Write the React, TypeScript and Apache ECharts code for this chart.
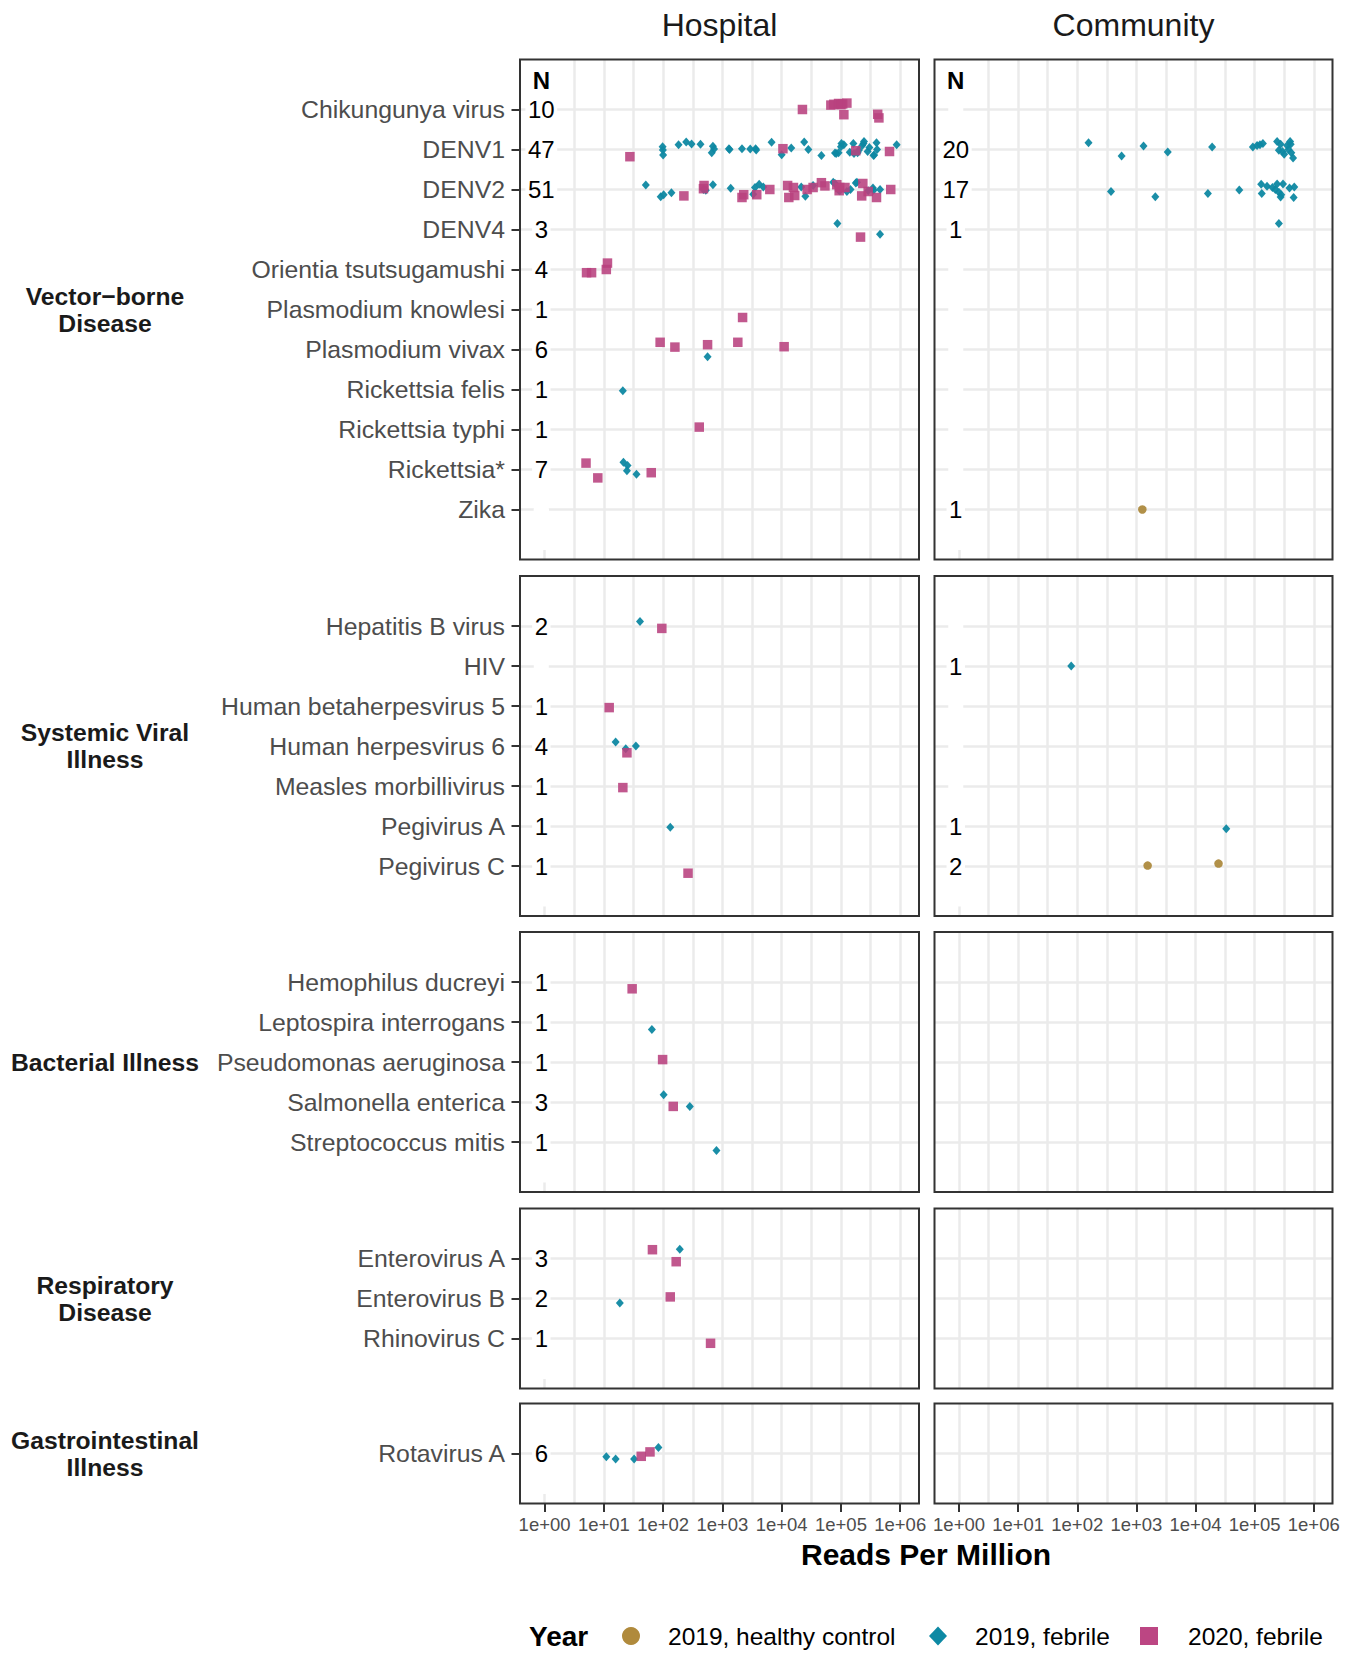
import React, { useEffect, useRef } from "react";
import * as echarts from "echarts";

const W = 1358;
const H = 1654;
const FONT = '"Liberation Sans", Arial, Helvetica, sans-serif';

// ---------- data ----------
const SITES = ["Hospital", "Community"];
const FACETS = [
  "Vector\u2212borne\nDisease",
  "Systemic Viral\nIllness",
  "Bacterial Illness",
  "Respiratory\nDisease",
  "Gastrointestinal\nIllness",
];
const CAT_VECTOR = [
  "Chikungunya virus", "DENV1", "DENV2", "DENV4", "Orientia tsutsugamushi",
  "Plasmodium knowlesi", "Plasmodium vivax", "Rickettsia felis", "Rickettsia typhi",
  "Rickettsia*", "Zika",
];
const CAT_SYSTEMIC = [
  "Hepatitis B virus", "HIV", "Human betaherpesvirus 5", "Human herpesvirus 6",
  "Measles morbillivirus", "Pegivirus A", "Pegivirus C",
];
const CAT_BACTERIAL = [
  "Hemophilus ducreyi", "Leptospira interrogans", "Pseudomonas aeruginosa",
  "Salmonella enterica", "Streptococcus mitis",
];
const CAT_RESPIRATORY = ["Enterovirus A", "Enterovirus B", "Rhinovirus C"];
const CAT_GI = ["Rotavirus A"];
const CATEGORIES = [CAT_VECTOR, CAT_SYSTEMIC, CAT_BACTERIAL, CAT_RESPIRATORY, CAT_GI];

const GROUPS = ["2019, healthy control", "2019, febrile", "2020, febrile"];
const X_TICKS = [1, 10, 100, 1000, 10000, 100000, 1000000];

// N per category (null = no count shown)
const N_HOSPITAL: (number | null)[][] = [
  [10, 47, 51, 3, 4, 1, 6, 1, 1, 7, null],
  [2, null, 1, 4, 1, 1, 1],
  [1, 1, 1, 3, 1],
  [3, 2, 1],
  [6],
];
const N_COMMUNITY: ((number | null)[] | null)[] = [
  [null, 20, 17, 1, null, null, null, null, null, null, 1],
  [null, 1, null, null, null, 1, 2],
  null,
  null,
  null,
];
const N_LABEL_X = 0.88; // reads-per-million position of the N column

// [category, reads per million, vertical jitter (rows)]
type Pt = [string, number, number];

const HOSPITAL_2019_FEBRILE: Pt[] = [
  ["DENV1", 98, -0.07], ["DENV1", 99, 0.01], ["DENV1", 100, 0.14], ["DENV1", 182, -0.12],
  ["DENV1", 245, -0.19], ["DENV1", 302, -0.14], ["DENV1", 427, -0.13], ["DENV1", 692, -0.08],
  ["DENV1", 724, -0.01], ["DENV1", 661, 0.08], ["DENV1", 1290, -0.02], ["DENV1", 1320, 0.0],
  ["DENV1", 2140, -0.02], ["DENV1", 2950, -0.01], ["DENV1", 3630, -0.02], ["DENV1", 3720, 0.01],
  ["DENV1", 6760, -0.18], ["DENV1", 10000, 0.13], ["DENV1", 14500, -0.04], ["DENV1", 24000, -0.19],
  ["DENV1", 28200, 0.0], ["DENV1", 46800, 0.15], ["DENV1", 79400, 0.09], ["DENV1", 83200, 0.1],
  ["DENV1", 91200, 0.08], ["DENV1", 102000, -0.15], ["DENV1", 100000, -0.07], ["DENV1", 112000, -0.12],
  ["DENV1", 141000, 0.07], ["DENV1", 162000, -0.15], ["DENV1", 166000, 0.1], ["DENV1", 200000, 0.02],
  ["DENV1", 240000, -0.15], ["DENV1", 229000, -0.1], ["DENV1", 245000, -0.2], ["DENV1", 282000, 0.05],
  ["DENV1", 302000, -0.05], ["DENV1", 355000, 0.15], ["DENV1", 398000, -0.17], ["DENV1", 407000, 0.0],
  ["DENV1", 363000, 0.14], ["DENV1", 871000, -0.12], ["DENV1", 191000, 0.08],
  ["DENV2", 51, -0.11], ["DENV2", 91, 0.18], ["DENV2", 102, 0.13], ["DENV2", 138, 0.08],
  ["DENV2", 479, 0.0], ["DENV2", 525, 0.02], ["DENV2", 692, -0.12], ["DENV2", 1380, -0.03],
  ["DENV2", 3310, 0.12], ["DENV2", 3550, -0.05], ["DENV2", 4170, -0.13], ["DENV2", 4900, -0.06],
  ["DENV2", 21400, -0.06], ["DENV2", 25100, 0.17], ["DENV2", 33900, -0.1], ["DENV2", 74100, -0.18],
  ["DENV2", 79400, -0.15], ["DENV2", 91200, 0.01], ["DENV2", 95500, 0.03], ["DENV2", 145000, 0.0],
  ["DENV2", 178000, -0.16], ["DENV2", 186000, -0.18], ["DENV2", 288000, 0.03], ["DENV2", 347000, -0.04],
  ["DENV2", 355000, 0.02], ["DENV2", 457000, 0.0], ["DENV2", 126000, 0.05],
  ["DENV4", 87100, -0.15], ["DENV4", 457000, 0.12],
  ["Plasmodium vivax", 562, 0.18],
  ["Rickettsia felis", 20.9, 0.03],
  ["Rickettsia*", 21.4, -0.18], ["Rickettsia*", 25.1, -0.1], ["Rickettsia*", 24.5, 0.03], ["Rickettsia*", 35.5, 0.12],
  ["Hepatitis B virus", 40.7, -0.11],
  ["Human herpesvirus 6", 15.8, -0.1], ["Human herpesvirus 6", 23.4, 0.07], ["Human herpesvirus 6", 34.7, 0.0],
  ["Pegivirus A", 132, 0.03],
  ["Leptospira interrogans", 64.6, 0.19],
  ["Salmonella enterica", 102, -0.18], ["Salmonella enterica", 282, 0.11],
  ["Streptococcus mitis", 794, 0.21],
  ["Enterovirus A", 191, -0.23],
  ["Enterovirus B", 18.6, 0.11],
  ["Rotavirus A", 11, 0.08], ["Rotavirus A", 15.8, 0.14], ["Rotavirus A", 32.4, 0.14], ["Rotavirus A", 83.2, -0.15],
];

const HOSPITAL_2020_FEBRILE: Pt[] = [
  ["Chikungunya virus", 22400, 0.0], ["Chikungunya virus", 67600, -0.11], ["Chikungunya virus", 75900, -0.13],
  ["Chikungunya virus", 91200, -0.15], ["Chikungunya virus", 100000, -0.12], ["Chikungunya virus", 107000, -0.14],
  ["Chikungunya virus", 126000, -0.16], ["Chikungunya virus", 112000, 0.13], ["Chikungunya virus", 417000, 0.12],
  ["Chikungunya virus", 437000, 0.21],
  ["DENV1", 27.5, 0.18], ["DENV1", 10500, -0.02], ["DENV1", 178000, 0.03], ["DENV1", 660000, 0.05],
  ["DENV2", 224, 0.16], ["DENV2", 490, -0.1], ["DENV2", 479, -0.02], ["DENV2", 2140, 0.2],
  ["DENV2", 2290, 0.13], ["DENV2", 3800, 0.13], ["DENV2", 6310, 0.0], ["DENV2", 12600, -0.1],
  ["DENV2", 13200, 0.2], ["DENV2", 15800, -0.05], ["DENV2", 16600, 0.15], ["DENV2", 26900, 0.0],
  ["DENV2", 33900, -0.05], ["DENV2", 46800, -0.17], ["DENV2", 53700, -0.09], ["DENV2", 85100, -0.12],
  ["DENV2", 95500, -0.05], ["DENV2", 117000, -0.05], ["DENV2", 93300, 0.03], ["DENV2", 234000, -0.15],
  ["DENV2", 224000, 0.16], ["DENV2", 288000, 0.05], ["DENV2", 398000, 0.2], ["DENV2", 692000, 0.0],
  ["DENV4", 214000, 0.19],
  ["Orientia tsutsugamushi", 5.1, 0.08], ["Orientia tsutsugamushi", 6.2, 0.08],
  ["Orientia tsutsugamushi", 11, 0.0], ["Orientia tsutsugamushi", 11.5, -0.16],
  ["Plasmodium knowlesi", 2190, 0.2],
  ["Plasmodium vivax", 89, -0.18], ["Plasmodium vivax", 158, -0.06], ["Plasmodium vivax", 562, -0.12],
  ["Plasmodium vivax", 1820, -0.18], ["Plasmodium vivax", 11000, -0.07],
  ["Rickettsia typhi", 407, -0.06],
  ["Rickettsia*", 5.0, -0.16], ["Rickettsia*", 7.9, 0.21], ["Rickettsia*", 63, 0.08],
  ["Hepatitis B virus", 95, 0.06],
  ["Human betaherpesvirus 5", 12.3, 0.04],
  ["Human herpesvirus 6", 24.5, 0.17],
  ["Measles morbillivirus", 20.9, 0.04],
  ["Pegivirus C", 263, 0.18],
  ["Hemophilus ducreyi", 30, 0.17],
  ["Pseudomonas aeruginosa", 98, -0.06],
  ["Salmonella enterica", 148, 0.11],
  ["Enterovirus A", 66, -0.22], ["Enterovirus A", 166, 0.08],
  ["Enterovirus B", 132, -0.04],
  ["Rhinovirus C", 631, 0.12],
  ["Rotavirus A", 42.7, 0.07], ["Rotavirus A", 60, -0.04],
];

const COMMUNITY_2019_FEBRILE: Pt[] = [
  ["DENV1", 155, -0.17], ["DENV1", 562, 0.16], ["DENV1", 1320, -0.09], ["DENV1", 3390, 0.06],
  ["DENV1", 19100, -0.06], ["DENV1", 93300, -0.06], ["DENV1", 110000, -0.1], ["DENV1", 123000, -0.12],
  ["DENV1", 138000, -0.15], ["DENV1", 240000, -0.2], ["DENV1", 275000, -0.13], ["DENV1", 257000, 0.02],
  ["DENV1", 316000, 0.12], ["DENV1", 398000, -0.2], ["DENV1", 407000, -0.13], ["DENV1", 372000, 0.0],
  ["DENV1", 417000, 0.08], ["DENV1", 447000, 0.21], ["DENV1", 295000, 0.05], ["DENV1", 355000, -0.1],
  ["DENV2", 372, 0.05], ["DENV2", 2090, 0.18], ["DENV2", 16200, 0.1], ["DENV2", 55000, 0.01],
  ["DENV2", 129000, -0.13], ["DENV2", 132000, 0.1], ["DENV2", 162000, -0.08], ["DENV2", 200000, -0.05],
  ["DENV2", 224000, 0.0], ["DENV2", 240000, -0.14], ["DENV2", 257000, 0.07], ["DENV2", 282000, 0.13],
  ["DENV2", 275000, 0.19], ["DENV2", 302000, -0.14], ["DENV2", 389000, -0.04], ["DENV2", 468000, -0.06],
  ["DENV2", 457000, 0.2],
  ["DENV4", 257000, -0.15],
  ["HIV", 79, 0.0],
  ["Pegivirus A", 33100, 0.07],
];

const COMMUNITY_2019_HEALTHY: Pt[] = [
  ["Zika", 1260, 0.0],
  ["Pegivirus C", 1550, -0.01], ["Pegivirus C", 24500, -0.06],
];

const SITE_POINTS: [number, Pt[]][][] = [
  [[1, HOSPITAL_2019_FEBRILE], [2, HOSPITAL_2020_FEBRILE]],
  [[0, COMMUNITY_2019_HEALTHY], [1, COMMUNITY_2019_FEBRILE]],
];

// ---------- styling / layout ----------
const COLORS = ["#AD8A3E", "#0E88A2", "#B8417E"];
const LEGEND_COLORS = ["#B08A3C", "#0D89A4", "#BC4683"];
const SYMBOLS = ["circle", "diamond", "rect"];
const SIZES: any[] = [8.5, [8, 9], 9.5];
const OPAC = [0.95, 0.95, 0.88];

const COL_LEFT = [520, 934.5];
const COL_W = [399, 398];
const ROW_TOP = [59.5, 576, 932, 1208.5, 1403.5];
const ROW_UNIT = 40;
const PAD = 1.25;
const HEADER_POS = -0.725;
const X_MIN = 0.3846;
const X_MAX = 2075000;
const GRID_COLOR = "#EBEBEB";
const BORDER = "#333333";

function fmtX(v: number) {
  const e = Math.round(Math.log10(v));
  return "1e+" + String(e).padStart(2, "0");
}

function buildOption() {
  const grid: any[] = [];
  const xAxis: any[] = [];
  const yAxis: any[] = [];
  const series: any[] = [];
  const graphic: any[] = [];
  const xGridLines = Array.from({ length: 13 }, (_, k) => Math.pow(10, k / 2));

  FACETS.forEach((facet, fi) => {
    const cats = CATEGORIES[fi];
    const n = cats.length;
    const idx = cats.map((_, i) => i);
    const top = ROW_TOP[fi];
    const height = (n - 1 + 2 * PAD) * ROW_UNIT;
    const isBottom = fi === FACETS.length - 1;

    SITES.forEach((site, si) => {
      const gi = grid.length;
      grid.push({
        left: COL_LEFT[si], top, width: COL_W[si], height,
        show: true, borderColor: BORDER, borderWidth: 2, backgroundColor: "transparent",
        containLabel: false, outerBoundsMode: "none", z: 5,
      });
      xAxis.push({
        type: "log", logBase: 10, gridIndex: gi, min: X_MIN, max: X_MAX,
        axisLine: { show: false, onZero: false }, splitLine: { show: false }, minorTick: { show: false },
        axisTick: { show: isBottom, inside: false, customValues: X_TICKS, length: 8.5, lineStyle: { color: BORDER, width: 2 } },
        axisLabel: {
          show: isBottom, customValues: X_TICKS, formatter: fmtX, color: "#4D4D4D",
          fontSize: 18.5, fontFamily: FONT, margin: 11, hideOverlap: false,
        },
      });
      yAxis.push({
        type: "value", gridIndex: gi, inverse: true, min: -PAD, max: n - 1 + PAD,
        axisLine: { show: false, onZero: false }, splitLine: { show: false },
        axisTick: { show: si === 0, inside: false, customValues: idx, length: 8.5, lineStyle: { color: BORDER, width: 2 } },
        axisLabel: {
          show: si === 0, customValues: idx, formatter: (v: number) => cats[Math.round(v)] ?? "",
          color: "#4D4D4D", fontSize: 24.8, fontFamily: FONT, margin: 15, hideOverlap: false,
        },
      });
      // panel grid lines
      series.push({
        type: "scatter", xAxisIndex: gi, yAxisIndex: gi, data: [], silent: true, z: 1,
        markLine: {
          silent: true, z: 1, animation: false, symbol: ["none", "none"], label: { show: false },
          lineStyle: { color: GRID_COLOR, width: 2.5, type: "solid" },
          emphasis: { disabled: true },
          data: [
            ...xGridLines.map((v) => ({ xAxis: v })),
            ...idx.map((i) => ({ yAxis: i })),
          ],
        },
      });
      // N labels with white boxes
      const counts = (si === 0 ? N_HOSPITAL : N_COMMUNITY)[fi];
      if (counts) {
        const box = (txt: string, y: number, bold: boolean) => ({
          value: [N_LABEL_X, y],
          txt,
          symbolSize: [txt ? txt.length * (bold ? 17.5 : 13.4) + 5 : 15, ROW_UNIT + 1],
          label: { fontWeight: bold ? "bold" : "normal" },
        });
        const items: any[] = [];
        items.push(box(fi === 0 ? "N" : "", HEADER_POS, true));
        items.push(box("", n - 1 + 0.5, false));
        counts.forEach((c, i) => items.push(box(c == null ? "" : String(c), i, false)));
        series.push({
          type: "scatter", xAxisIndex: gi, yAxisIndex: gi, silent: true, z: 2,
          symbol: "rect", data: items,
          itemStyle: { color: "#FFFFFF", opacity: 1 },
          label: {
            show: true, position: "inside", formatter: (p: any) => p.data.txt,
            color: "#000000", fontSize: 24, fontFamily: FONT,
          },
          emphasis: { disabled: true },
        });
      }
      // data points
      SITE_POINTS[si].forEach(([g, pts]) => {
        const data = pts
          .filter((p) => cats.includes(p[0]))
          .map((p) => [p[1], cats.indexOf(p[0]) + p[2]]);
        if (!data.length) return;
        series.push({
          type: "scatter", name: GROUPS[g], xAxisIndex: gi, yAxisIndex: gi, data,
          symbol: SYMBOLS[g], symbolSize: SIZES[g], silent: true, z: 3,
          itemStyle: { color: COLORS[g], opacity: OPAC[g] },
          emphasis: { disabled: true },
        });
      });
    });

    // facet (row) strip label on the left
    graphic.push({
      type: "text", x: 105, y: top + height / 2, silent: true,
      style: {
        text: facet, fill: "#1A1A1A", fontSize: 24.7, fontWeight: "bold", fontFamily: FONT,
        align: "center", verticalAlign: "middle", lineHeight: 27,
      },
    });
  });

  // column strip titles
  SITES.forEach((site, si) => {
    graphic.push({
      type: "text", x: COL_LEFT[si] + COL_W[si] / 2, y: 25, silent: true,
      style: { text: site, fill: "#1A1A1A", fontSize: 32, fontFamily: FONT, align: "center", verticalAlign: "middle" },
    });
  });

  // x axis title
  graphic.push({
    type: "text", x: 926, y: 1554, silent: true,
    style: {
      text: "Reads Per Million", fill: "#000000", fontSize: 30, fontWeight: "bold", fontFamily: FONT,
      align: "center", verticalAlign: "middle",
    },
  });

  // legend
  const LY = 1636;
  graphic.push({
    type: "text", x: 529, y: LY, silent: true,
    style: { text: "Year", fill: "#000000", fontSize: 28, fontWeight: "bold", fontFamily: FONT, align: "left", verticalAlign: "middle" },
  });
  graphic.push({ type: "circle", silent: true, shape: { cx: 631, cy: LY, r: 9 }, style: { fill: LEGEND_COLORS[0] } });
  graphic.push({
    type: "polygon", silent: true,
    shape: { points: [[938, LY - 9.5], [947, LY], [938, LY + 9.5], [929, LY]] },
    style: { fill: LEGEND_COLORS[1] },
  });
  graphic.push({ type: "rect", silent: true, shape: { x: 1140, y: LY - 9, width: 18, height: 18 }, style: { fill: LEGEND_COLORS[2] } });
  const legendTextX = [668, 975, 1188];
  GROUPS.forEach((g, i) => {
    graphic.push({
      type: "text", x: legendTextX[i], y: LY, silent: true,
      style: { text: g, fill: "#000000", fontSize: 24.5, fontFamily: FONT, align: "left", verticalAlign: "middle" },
    });
  });

  return {
    animation: false,
    backgroundColor: "#FFFFFF",
    textStyle: { fontFamily: FONT },
    grid, xAxis, yAxis, series, graphic,
  };
}

export default function App() {
  const ref = useRef<HTMLDivElement>(null);
  useEffect(() => {
    const el = ref.current;
    if (!el) return;
    const chart = echarts.init(el, null, { renderer: "svg", width: W, height: H });
    chart.setOption(buildOption() as any);
    return () => chart.dispose();
  }, []);
  return (
    <div
      ref={ref}
      style={{ position: "absolute", left: 0, top: 0, width: W, height: H, background: "#FFFFFF" }}
    />
  );
}
